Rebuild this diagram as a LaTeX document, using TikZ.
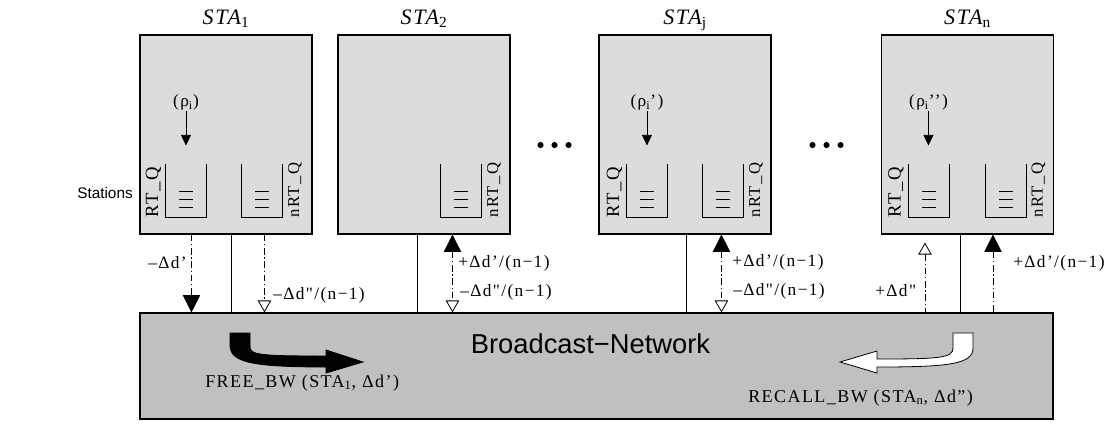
\documentclass[tikz,border=0pt]{standalone}
\usepackage{fontspec}
\setmainfont{Liberation Serif}
\setsansfont{Liberation Sans}
\newfontfamily\wideserif{Liberation Serif}[LetterSpace=8]
\usetikzlibrary{arrows.meta, calc, positioning}
\definecolor{station-bg}{HTML}{DCDCDC}
\definecolor{network-bg}{HTML}{C0C0C0}

\tikzset{
  solidtip/.tip={Triangle[width=13pt, length=13pt]},
  hollowtip/.tip={Triangle[open, fill=white, width=10pt, length=9pt]},
  % queue: open box with three short lines, drawn from its top left corner
  queue/.pic={
    \draw[line width=0.6pt] (0,0) -- (0,54) -- (41,54) -- (41,0);
    \draw[line width=0.5pt] (14,28) -- (28,28) (14,36) -- (28,36) (14,44) -- (28,44);
    \coordinate (-in) at (20.5,-18);
    \coordinate (-bl) at (0,54);
    \coordinate (-br) at (41,54);
  },
}

\begin{document}
\begin{tikzpicture}[x=0.75pt, y=-0.75pt,
    every node/.style={inner sep=0pt},
    stabox/.style={draw, line width=0.8pt, fill=station-bg,
                   minimum width=129pt, minimum height=149.25pt},
    netbox/.style={draw, line width=0.8pt, fill=network-bg,
                   minimum width=684.75pt, minimum height=79.5pt},
    staname/.style={font=\wideserif\fontsize{16.5}{19}\selectfont\itshape, anchor=base},
    qname/.style={font=\wideserif\fontsize{14}{16}\selectfont, rotate=90},
    nqname/.style={font=\wideserif\fontsize{12.5}{15}\selectfont, rotate=90},
    rate/.style={font=\wideserif\fontsize{13}{15}\selectfont},
    lbl/.style={font=\wideserif\fontsize{13}{15}\selectfont, anchor=west},
    msg/.style={font=\wideserif\fontsize{13.5}{16}\selectfont, anchor=base west},
    link/.style={line width=0.6pt},
    dashlink/.style={line width=0.6pt, dash pattern=on 5pt off 2pt on 1pt off 2pt},
    feed/.style={line width=0.6pt, -{Triangle[width=7.5pt, length=8pt]}}]
  % units are pixels, y grows downwards
  \useasboundingbox (0,0) rectangle (1114,426);

  % stations on top, shared network below
  \node[stabox] (sta1) at (226,134.5) {};
  \node[stabox] (sta2) at (424,134.5) {};
  \node[stabox] (staj) at (685,134.5) {};
  \node[stabox] (stan) at (967.5,134.5) {};
  \node[netbox] (net) at (596.5,366) {};

  \node[staname] (t1) at ($(sta1.north)+(0,-10)$) {STA\textsubscript{\upshape 1}};
  \node[staname] (t2) at ($(sta2.north)+(0,-10)$) {STA\textsubscript{\upshape 2}};
  \node[staname] (tj) at ($(staj.north)+(0,-10)$) {STA\textsubscript{\upshape j}};
  \node[staname] (tn) at ($(stan.north)+(0,-10)$) {STA\textsubscript{\upshape n}};

  \node[font=\sffamily\fontsize{11.5}{13}\selectfont] (stations) at (105,193) {Stations};

  % dots between the stations
  \coordinate (gap1) at (554.5,145);
  \coordinate (gap2) at (826.5,145);
  \fill (gap1) circle (2.3pt) ++(-14,0) circle (2.3pt) ++(28,0) circle (2.3pt);
  \fill (gap2) circle (2.3pt) ++(-14,0) circle (2.3pt) ++(28,0) circle (2.3pt);

  % queues
  \pic (q1) at ($(sta1.south west)+(26,-71)$) {queue};
  \pic (q2) at ($(sta1.south west)+(102,-71)$) {queue};
  \pic (q3) at ($(sta2.south west)+(103,-71)$) {queue};
  \pic (q4) at ($(staj.south west)+(28,-71)$) {queue};
  \pic (q5) at ($(staj.south west)+(104,-71)$) {queue};
  \pic (q6) at ($(stan.south west)+(27,-71)$) {queue};
  \pic (q7) at ($(stan.south west)+(104,-71)$) {queue};

  \node[qname, anchor=south west] (q1-name) at ([xshift=-3pt]q1-bl) {RT\_Q};
  \node[nqname, anchor=north west] (q2-name) at ([xshift=4pt]q2-br) {nRT\_Q};
  \node[nqname, anchor=north west] (q3-name) at ([xshift=4pt]q3-br) {nRT\_Q};
  \node[qname, anchor=south west] (q4-name) at ([xshift=-3pt]q4-bl) {RT\_Q};
  \node[nqname, anchor=north west] (q5-name) at ([xshift=4pt]q5-br) {nRT\_Q};
  \node[qname, anchor=south west] (q6-name) at ([xshift=-3pt]q6-bl) {RT\_Q};
  \node[nqname, anchor=north west] (q7-name) at ([xshift=4pt]q7-br) {nRT\_Q};

  % arrivals into the RT queues
  \node[rate, above=26pt of q1-in] (r1) {(ρ\textsubscript{i})};
  \node[rate, above=26pt of q4-in] (r4) {(ρ\textsubscript{i}’)};
  \node[rate, above=26pt of q6-in] (r6) {(ρ\textsubscript{i}’’)};
  \draw[feed] (r1) -- (q1-in);
  \draw[feed] (r4) -- (q4-in);
  \draw[feed] (r6) -- (q6-in);

  % STA1 <-> network
  \coordinate (c1) at ($(sta1.south west)+(52,0)$);
  \coordinate (c2) at ($(sta1.south west)+(92,0)$);
  \coordinate (c3) at ($(sta1.south west)+(125,0)$);
  \draw[dashlink, -{solidtip}] (c1) -- (c1 |- net.north);
  \draw[link] (c2) -- (c2 |- net.north);
  \draw[dashlink, -{hollowtip}] (c3) -- (c3 |- net.north);
  \node[lbl] (l1) at (148,263) {–Δd’};
  \node[lbl] (l2) at (273,295) {–Δd"/(n−1)};

  % STA2 <-> network
  \coordinate (c4) at ($(sta2.south west)+(80,0)$);
  \coordinate (c5) at ($(sta2.south west)+(115,0)$);
  \draw[link] (c4) -- (c4 |- net.north);
  \draw[dashlink, {solidtip}-{hollowtip}] (c5) -- (c5 |- net.north);
  \node[lbl] (l3) at (458,263) {+Δd’/(n−1)};
  \node[lbl] (l4) at (460,292) {–Δd"/(n−1)};

  % STAj <-> network
  \coordinate (c6) at ($(staj.south west)+(88,0)$);
  \coordinate (c7) at ($(staj.south west)+(123,0)$);
  \draw[link] (c6) -- (c6 |- net.north);
  \draw[dashlink, {solidtip}-{hollowtip}] (c7) -- (c7 |- net.north);
  \node[lbl] (l5) at (732,262) {+Δd’/(n−1)};
  \node[lbl] (l6) at (733,291) {–Δd"/(n−1)};

  % STAn <-> network
  \coordinate (c8) at ($(stan.south west)+(44,0)$);
  \coordinate (c9) at ($(stan.south west)+(79,0)$);
  \coordinate (c10) at ($(stan.south west)+(112,0)$);
  \draw[dashlink, {hollowtip}-, shorten <=6pt] (c8) -- (c8 |- net.north);
  \draw[link] (c9) -- (c9 |- net.north);
  \draw[dashlink, {solidtip}-] (c10) -- (c10 |- net.north);
  \node[lbl] (l7) at (875,291) {+Δd"};
  \node[lbl] (l8) at (1013,263) {+Δd’/(n−1)};

  \node[font=\sffamily\fontsize{20.5}{24}\selectfont, anchor=base] (netname)
    at ($(net.center)+(-6,-13)$) {Broadcast−Network};

  % bandwidth handed over / taken back
  \filldraw[line width=0.6pt] (230,333) -- (250,333) -- (250,347)
    .. controls (250,355) and (262,356) .. (326,356) -- (326,350) -- (363,362)
    -- (326,373) -- (326,367) .. controls (250,367) and (230,362) .. (230,345) -- cycle;
  \filldraw[line width=0.6pt, fill=white] (973,333) -- (953,333) -- (953,348)
    .. controls (953,358) and (940,359) .. (877,359) -- (877,351) -- (840,362)
    -- (877,373) -- (877,367) .. controls (950,367) and (973,364) .. (973,348) -- cycle;
  \node[msg] (free) at (205,387) {FREE\_BW (STA\textsubscript{1}, Δd’)};
  \node[msg] (recall) at (748,402) {RECALL\_BW (STA\textsubscript{n}, Δd”)};
\end{tikzpicture}
\end{document}
